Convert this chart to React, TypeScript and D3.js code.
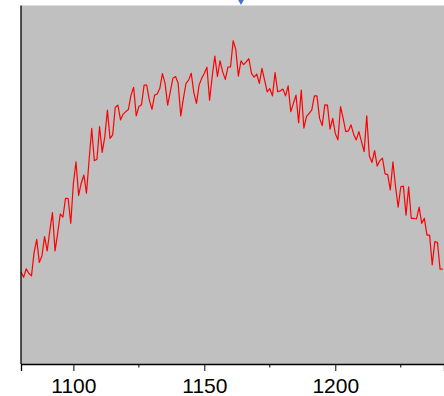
import React, { useEffect, useRef } from 'react';
import * as d3 from 'd3';

// x positions: one reading per unit starting at 1080
const startX = 1080;
const intensity = [
  25.8, 24.2, 26.6, 25.3, 24.6, 31.1, 34.8, 28.4, 30.2, 35.6,
  31.6, 37.2, 42.3, 31.6, 36.5, 41.9, 41.0, 46.3, 46.2, 39.3,
  50.5, 56.5, 47.1, 50.5, 52.8, 47.7, 57.0, 65.8, 56.8, 57.2,
  66.3, 59.1, 63.5, 70.9, 63.0, 64.0, 71.7, 72.3, 68.2, 69.8,
  70.5, 71.1, 75.1, 77.3, 69.3, 71.9, 72.4, 77.9, 77.9, 73.7,
  71.1, 75.1, 75.4, 77.0, 81.1, 78.4, 72.3, 76.1, 79.8, 80.3,
  78.4, 69.3, 74.2, 78.4, 79.3, 81.2, 75.8, 72.8, 77.9, 79.8,
  81.2, 82.9, 73.7, 80.3, 86.0, 80.3, 84.7, 81.6, 79.5, 82.9,
  83.0, 90.3, 87.9, 80.4, 84.7, 83.6, 84.4, 85.3, 81.2, 80.1,
  81.0, 78.4, 82.6, 79.3, 76.0, 76.9, 74.9, 81.4, 76.1, 76.3,
  76.8, 74.9, 77.7, 70.5, 72.8, 75.1, 67.4, 76.5, 65.9, 69.1,
  70.0, 70.9, 74.9, 74.9, 68.6, 66.6, 72.4, 72.3, 65.6, 68.6,
  64.4, 62.6, 71.9, 68.6, 64.9, 65.1, 66.8, 64.2, 62.6, 64.9,
  62.1, 59.3, 69.3, 58.1, 56.3, 59.6, 55.3, 56.8, 57.5, 53.1,
  52.9, 48.6, 56.5, 49.5, 43.8, 49.5, 49.7, 41.6, 49.5, 40.7,
  40.7, 40.5, 43.8, 39.3, 40.7, 36.0, 36.0, 27.7, 34.2, 34.0,
  26.5, 26.5,
];
const majorTicks = [1100, 1150, 1200];
const minorTicks = [1125, 1175, 1225];
const markerX = 1164;

const width = 444;
const height = 396;
const plot = { left: 21, right: 444, top: 5.5, bottom: 364 };

export default function App() {
  const svgRef = useRef<SVGSVGElement>(null);

  useEffect(() => {
    const svg = d3.select(svgRef.current);
    svg.selectAll('*').remove();

    const x = d3.scaleLinear().domain([1080, 1241.5]).range([plot.left, plot.right]);
    const y = d3.scaleLinear().domain([0, 100]).range([plot.bottom, 6]);

    const data = intensity.map((v, i) => ({ x: startX + i, y: v }));

    svg.append('rect')
      .attr('x', plot.left)
      .attr('y', plot.top)
      .attr('width', plot.right - plot.left)
      .attr('height', plot.bottom - plot.top)
      .attr('fill', '#c0c0c0');

    const line = d3.line<{ x: number; y: number }>()
      .x(d => x(d.x))
      .y(d => y(d.y));

    svg.append('path')
      .datum(data)
      .attr('d', line)
      .attr('fill', 'none')
      .attr('stroke', '#ff0000')
      .attr('stroke-width', 1.2)
      .attr('stroke-linejoin', 'round');

    // left axis line, no ticks
    svg.append('line')
      .attr('x1', plot.left).attr('x2', plot.left)
      .attr('y1', plot.top).attr('y2', plot.bottom)
      .attr('stroke', '#000')
      .attr('stroke-width', 1.3);

    // bottom axis with major + minor ticks
    const gx = svg.append('g').attr('transform', `translate(0,${plot.bottom})`);
    gx.call(
      d3.axisBottom(x)
        .tickValues(majorTicks)
        .tickSize(7)
        .tickPadding(7)
        .tickFormat(d3.format('d'))
    );
    gx.select('.domain').attr('stroke-width', 1.3);
    gx.selectAll('.tick text')
      .attr('font-family', 'Liberation Sans, Arial, sans-serif')
      .attr('font-size', 21)
      .attr('fill', '#000');

    gx.selectAll('.minor')
      .data(minorTicks)
      .join('line')
      .attr('class', 'minor')
      .attr('x1', d => x(d)).attr('x2', d => x(d))
      .attr('y1', 0).attr('y2', 3.5)
      .attr('stroke', '#000');

    // blue marker at the top edge
    const mx = x(markerX);
    svg.append('path')
      .attr('d', `M${mx - 4.5},-3L${mx + 4.5},-3L${mx},5Z`)
      .attr('fill', '#4472c4');
  }, []);

  return (
    <svg
      ref={svgRef}
      width={width}
      height={height}
      style={{ position: 'fixed', left: 0, top: 0, background: '#fff' }}
    />
  );
}
